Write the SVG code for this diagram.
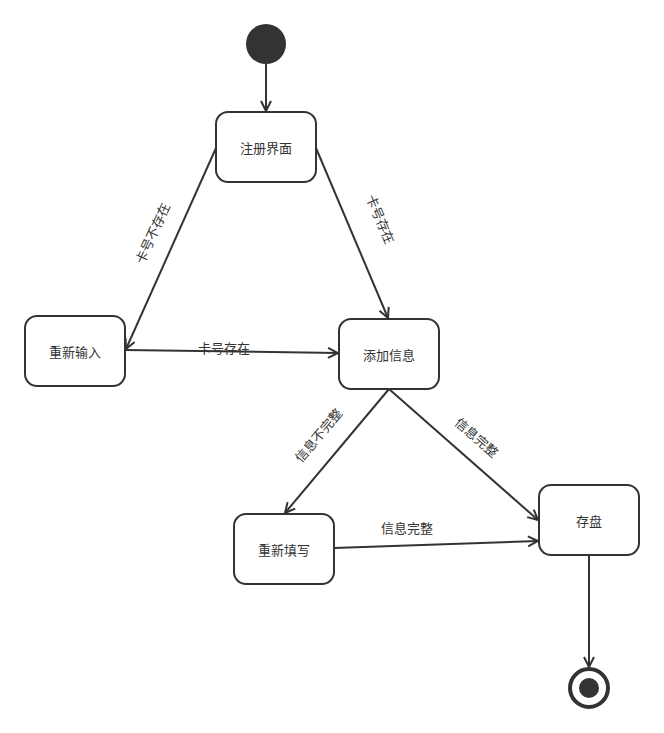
<svg xmlns="http://www.w3.org/2000/svg" width="664" height="733" viewBox="0 0 664 733">
<style>
.node rect{fill:#fff;stroke:#333;stroke-width:2}
.node text,.lbl{font-family:"Noto Sans CJK SC","Liberation Sans",sans-serif;font-size:13px;fill:#333;text-anchor:middle;dominant-baseline:central}
.edge{fill:none;stroke:#333;stroke-width:2;marker-end:url(#arr)}
</style>
<defs>
<marker id="arr" viewBox="0 0 12 12" refX="11" refY="6" markerWidth="12" markerHeight="12" markerUnits="userSpaceOnUse" orient="auto">
<path d="M1,1 L11,6 L1,11" fill="none" stroke="#333" stroke-width="2"/>
</marker>
</defs>
<rect width="664" height="733" fill="#fff"/>
<g id="start"><circle cx="266" cy="44" r="20" fill="#333"/></g>
<g id="n1" class="node"><rect x="216" y="112" width="100" height="70" rx="12"/><text x="266" y="147">注册界面</text></g>
<g id="n2" class="node"><rect x="25" y="316" width="100" height="70" rx="12"/><text x="75" y="351">重新输入</text></g>
<g id="n3" class="node"><rect x="339" y="319" width="100" height="70" rx="12"/><text x="389" y="354">添加信息</text></g>
<g id="n4" class="node"><rect x="234" y="514" width="100" height="70" rx="12"/><text x="284" y="549">重新填写</text></g>
<g id="n5" class="node"><rect x="539" y="485" width="100" height="70" rx="12"/><text x="589" y="520">存盘</text></g>
<g id="end"><circle cx="589" cy="688" r="19" fill="#fff" stroke="#333" stroke-width="4"/><circle cx="589" cy="688" r="10" fill="#333"/></g>
<g id="connectors">
<path class="edge" d="M266,64 L266,111"/>
<path class="edge" d="M216,148 L126,349"/>
<path class="edge" d="M316,148 L388,318"/>
<path class="edge" d="M125,350 L338,353"/>
<path class="edge" d="M389,389 L285,513"/>
<path class="edge" d="M389,389 L538,520"/>
<path class="edge" d="M334,548 L538,541"/>
<path class="edge" d="M589,555 L589,667"/>
<text class="lbl" transform="translate(152,233) rotate(-65.7)">卡号不存在</text>
<text class="lbl" transform="translate(381,219) rotate(67)">卡号存在</text>
<text class="lbl" x="224" y="347">卡号存在</text>
<text class="lbl" transform="translate(318,435) rotate(-50)">信息不完整</text>
<text class="lbl" transform="translate(477,437) rotate(41)">信息完整</text>
<text class="lbl" x="407" y="527">信息完整</text>
</g>
</svg>
